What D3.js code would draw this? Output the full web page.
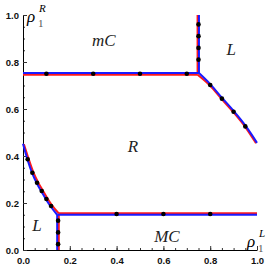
<!DOCTYPE html>
<html>
<head>
<meta charset="utf-8">
<script src="https://cdn.jsdelivr.net/npm/d3@7"></script>
<style>
  body { margin: 0; background: #fff; }
  .tick text { font-family: "Liberation Sans", Arial, sans-serif; font-weight: bold; font-size: 9.5px; fill: #111; }
  .lbl { font-family: "Liberation Serif", "Times New Roman", serif; font-style: italic; }
</style>
</head>
<body>
<svg id="chart"></svg>
<script>
// phase boundaries, blue computation
var blueUpperH = [[0, 0.753], [0.752, 0.753]];
var blueUpperV = [[0.752, 0.753], [0.752, 1.0]];
var blueUpperCurve = [[0.752, 0.753], [0.8, 0.706], [0.85, 0.648], [0.9, 0.592], [0.95, 0.53], [1.0, 0.456]];
var blueLowerCurve = [[0, 0.452], [0.02, 0.382], [0.04, 0.325], [0.06, 0.282], [0.08, 0.247], [0.1, 0.213], [0.12, 0.183], [0.146, 0.15]];
var blueLowerH = [[0.146, 0.15], [1.0, 0.15]];
var blueLowerV = [[0.146, 0], [0.146, 0.15]];

// phase boundaries, red computation
var redUpperH = [[0, 0.746], [0.746, 0.746]];
var redUpperV = [[0.746, 0.746], [0.746, 1.0]];
var redUpperCurve = [[0.746, 0.746], [0.8, 0.699], [0.85, 0.641], [0.9, 0.585], [0.95, 0.523], [0.996, 0.454]];
var redLowerCurve = [[0.004, 0.45], [0.024, 0.388], [0.044, 0.331], [0.064, 0.289], [0.084, 0.254], [0.104, 0.22], [0.124, 0.19], [0.153, 0.156]];
var redLowerH = [[0.153, 0.156], [1.0, 0.156]];
var redLowerV = [[0.153, 0], [0.153, 0.156]];

// black sample points
var points = [
  [0.1, 0.75], [0.3, 0.75], [0.5, 0.75], [0.7, 0.75],
  [0.75, 0.81], [0.75, 0.86], [0.75, 0.91], [0.75, 0.96],
  [0.8, 0.702], [0.85, 0.644], [0.9, 0.588], [0.95, 0.526],
  [0.02, 0.386], [0.04, 0.329], [0.06, 0.286], [0.08, 0.251], [0.1, 0.217], [0.12, 0.187],
  [0.4, 0.153], [0.6, 0.153], [0.8, 0.153],
  [0.15, 0.025], [0.15, 0.075], [0.15, 0.125]
];

var majorTicks = [0, 0.2, 0.4, 0.6, 0.8, 1.0];
var minorTicks = d3.range(0, 1.0001, 0.05).map(function (d) { return +d.toFixed(2); });

var regionLabels = [
  { text: "mC", x: 0.345, y: 0.87 },
  { text: "L", x: 0.89, y: 0.83 },
  { text: "R", x: 0.47, y: 0.415 },
  { text: "L", x: 0.06, y: 0.08 },
  { text: "MC", x: 0.615, y: 0.035 }
];

var width = 273, height = 268;
var svg = d3.select("#chart").attr("width", width).attr("height", height);

var x = d3.scaleLinear().domain([0, 1]).range([23, 257]);
var y = d3.scaleLinear().domain([0, 1]).range([250, 15]);

// minor ticks (inside)
svg.append("g").attr("transform", "translate(0," + y(0) + ")")
  .call(d3.axisBottom(x).tickValues(minorTicks).tickSize(-2).tickSizeOuter(0).tickFormat(""))
  .call(function (g) { g.select(".domain").remove(); });
svg.append("g").attr("transform", "translate(" + x(0) + ",0)")
  .call(d3.axisLeft(y).tickValues(minorTicks).tickSize(-2).tickSizeOuter(0).tickFormat(""))
  .call(function (g) { g.select(".domain").remove(); });

// major ticks + labels
var xAxis = svg.append("g").attr("transform", "translate(0," + y(0) + ")")
  .call(d3.axisBottom(x).tickValues(majorTicks).tickSize(-4).tickSizeOuter(0).tickPadding(4).tickFormat(d3.format(".1f")));
var yAxis = svg.append("g").attr("transform", "translate(" + x(0) + ",0)")
  .call(d3.axisLeft(y).tickValues(majorTicks).tickSize(-4).tickSizeOuter(0).tickPadding(4).tickFormat(d3.format(".1f")));
xAxis.selectAll("text").attr("y", 7);
svg.selectAll(".domain").attr("stroke", "#000").attr("stroke-width", 1);
svg.selectAll(".tick line").attr("stroke", "#333");

var line = d3.line().x(function (d) { return x(d[0]); }).y(function (d) { return y(d[1]); }).curve(d3.curveMonotoneX);
var straight = d3.line().x(function (d) { return x(d[0]); }).y(function (d) { return y(d[1]); });

var reds = [redUpperH, redUpperV, redUpperCurve, redLowerCurve, redLowerH, redLowerV];
var blues = [blueUpperH, blueUpperV, blueUpperCurve, blueLowerCurve, blueLowerH, blueLowerV];

svg.append("g").selectAll("path").data(reds).enter().append("path")
  .attr("d", function (d) { return d.length > 2 ? line(d) : straight(d); })
  .attr("fill", "none").attr("stroke", "#ff1a1a").attr("stroke-width", 2);
svg.append("g").selectAll("path").data(blues).enter().append("path")
  .attr("d", function (d) { return d.length > 2 ? line(d) : straight(d); })
  .attr("fill", "none").attr("stroke", "#1a1aff").attr("stroke-width", 2);

svg.append("g").selectAll("circle").data(points).enter().append("circle")
  .attr("cx", function (d) { return x(d[0]); })
  .attr("cy", function (d) { return y(d[1]); })
  .attr("r", 2.3).attr("fill", "#000");

svg.append("g").selectAll("text").data(regionLabels).enter().append("text")
  .attr("class", "lbl")
  .attr("x", function (d) { return x(d.x); })
  .attr("y", function (d) { return y(d.y); })
  .attr("text-anchor", "middle")
  .attr("font-size", 17)
  .attr("fill", "#222")
  .text(function (d) { return d.text; });

// axis labels rho_1^R and rho_1^L
function rho(px, py, sup) {
  var g = svg.append("g");
  g.append("text").attr("class", "lbl").attr("x", px).attr("y", py).attr("font-size", 17).text("ρ");
  g.append("text").attr("class", "lbl").attr("x", px + 12).attr("y", py - 10).attr("font-size", 11).text(sup);
  g.append("text").attr("x", px + 11).attr("y", py + 5).attr("font-size", 11)
    .attr("font-family", "Liberation Serif, serif").attr("fill", "#555").text("1");
}
rho(27, 22, "R");
rho(247, 247, "L");
</script>
</body>
</html>
